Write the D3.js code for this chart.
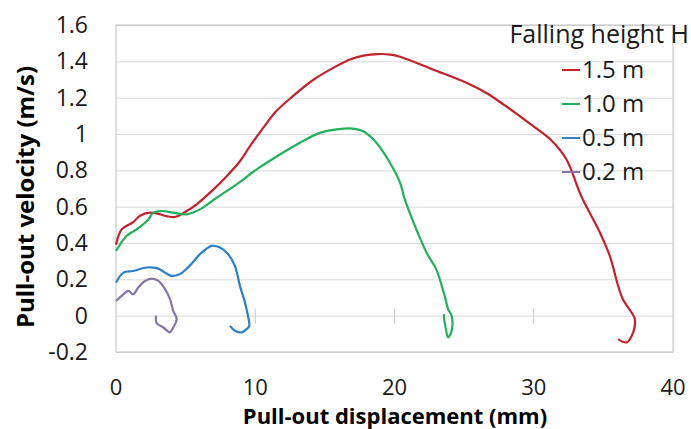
<!DOCTYPE html>
<html>
<head>
<meta charset="utf-8">
<script src="https://cdn.jsdelivr.net/npm/d3@7/dist/d3.min.js"></script>
<style>
  body { margin: 0; background: #fff; }
  svg { font-family: "Open Sans", "Noto Sans", sans-serif; }
</style>
</head>
<body>
<div class="wrapper"></div>
<script>
// data: displacement (mm) and velocity (m/s)
var series = ["1.5 m", "1.0 m", "0.5 m", "0.2 m"];
var colors = ["#c3212b", "#22b05a", "#2d7fc6", "#8574a6"];

var x15 = [0, 0.41, 1.24, 1.72, 2.44, 2.92, 3.64, 4.24, 5.07, 5.79, 6.75, 7.95, 8.9, 9.62, 10.57, 11.5, 12.7, 14.2, 15.6, 16.8, 17.75, 18.8, 19.7, 20.4, 22.8, 25.2, 26.6, 28.0, 29.96, 31.2, 32.35, 33.4, 34.75, 35.46, 36.06, 36.4, 37.1, 37.26, 37.14, 36.66, 36.06];
var v15 = [0.39, 0.475, 0.515, 0.55, 0.567, 0.563, 0.548, 0.543, 0.576, 0.613, 0.677, 0.768, 0.85, 0.933, 1.034, 1.125, 1.208, 1.3, 1.364, 1.41, 1.431, 1.44, 1.437, 1.425, 1.354, 1.281, 1.226, 1.153, 1.043, 0.97, 0.86, 0.66, 0.457, 0.329, 0.164, 0.09, 0.008, -0.019, -0.092, -0.147, -0.129];

var x10 = [0, 0.77, 1.48, 2.32, 2.68, 3.28, 4.11, 5.07, 6.03, 7.23, 8.66, 10.1, 11.77, 13.2, 14.64, 15.84, 17.0, 17.75, 18.7, 19.67, 20.4, 20.74, 22.3, 23.0, 23.6, 23.85, 24.1, 24.1, 23.85, 23.69, 23.55, 23.6];
var v10 = [0.356, 0.44, 0.475, 0.53, 0.567, 0.576, 0.567, 0.558, 0.585, 0.649, 0.723, 0.805, 0.887, 0.952, 1.006, 1.025, 1.03, 1.015, 0.952, 0.842, 0.732, 0.64, 0.347, 0.255, 0.109, 0.036, 0.0, -0.084, -0.12, -0.074, 0.0, 0.008];

var x05 = [0, 0.53, 1.24, 2.2, 3.04, 3.52, 4.0, 4.56, 5.28, 6.03, 6.86, 7.47, 8.06, 8.54, 8.9, 9.26, 9.5, 9.57, 9.38, 9.02, 8.54, 8.18];
var v05 = [0.182, 0.237, 0.246, 0.265, 0.259, 0.237, 0.219, 0.228, 0.274, 0.338, 0.384, 0.375, 0.338, 0.274, 0.164, 0.073, -0.01, -0.056, -0.074, -0.092, -0.083, -0.056];

var x02 = [0, 0.41, 0.89, 1.24, 1.6, 2.08, 2.56, 3.04, 3.52, 3.88, 4.11, 4.36, 4.11, 3.88, 3.4, 2.92, 2.87];
var v02 = [0.081, 0.109, 0.136, 0.118, 0.155, 0.191, 0.204, 0.191, 0.146, 0.091, 0.026, -0.019, -0.065, -0.092, -0.065, -0.041, 0];

var xTicks = [0, 10, 20, 30, 40];
var yTicks = [-0.2, 0, 0.2, 0.4, 0.6, 0.8, 1, 1.2, 1.4, 1.6];

var seriesX = [x15, x10, x05, x02];
var seriesV = [v15, v10, v05, v02];

var width = 691,
    height = 429,
    margin = {top: 25, right: 18, bottom: 77, left: 116};

var x = d3.scaleLinear().domain([0, 40]).range([margin.left, width - margin.right]);
var y = d3.scaleLinear().domain([-0.2, 1.6]).range([height - margin.bottom, margin.top]);

var svg = d3.select(".wrapper").append("svg")
    .attr("width", width)
    .attr("height", height);

// horizontal gridlines
svg.append("g")
    .attr("transform", "translate(" + margin.left + ",0)")
    .call(d3.axisLeft(y).tickValues(yTicks).tickSize(-(width - margin.left - margin.right)).tickFormat(""))
    .call(function(g) { g.select(".domain").remove(); })
    .selectAll("line").attr("stroke", "#d9d9d9");

// plot border
svg.append("rect")
    .attr("x", margin.left).attr("y", margin.top)
    .attr("width", width - margin.left - margin.right)
    .attr("height", height - margin.top - margin.bottom)
    .attr("fill", "none").attr("stroke", "#bfbfbf");

// x axis crosses at v = 0: only the tick marks show
svg.append("g")
    .selectAll("line")
    .data(xTicks.slice(1, -1))
  .enter().append("line")
    .attr("x1", function(d) { return x(d); }).attr("x2", function(d) { return x(d); })
    .attr("y1", y(0) - 7).attr("y2", y(0) + 8)
    .attr("stroke", "#c8c8c8");

// tick labels
svg.append("g").selectAll("text")
    .data(yTicks)
  .enter().append("text")
    .attr("x", 88).attr("y", function(d) { return y(d); })
    .attr("dy", "0.35em")
    .attr("text-anchor", "end")
    .attr("font-size", 23)
    .attr("fill", "#1a1a1a")
    .text(function(d) { return d; });

svg.append("g").selectAll("text")
    .data(xTicks)
  .enter().append("text")
    .attr("x", function(d) { return x(d); }).attr("y", 387)
    .attr("dy", "0.35em")
    .attr("text-anchor", "middle")
    .attr("font-size", 22)
    .attr("fill", "#1a1a1a")
    .text(function(d) { return d; });

// axis titles
svg.append("text")
    .attr("x", 395).attr("y", 424)
    .attr("text-anchor", "middle")
    .attr("font-size", 22).attr("font-weight", "bold")
    .text("Pull-out displacement (mm)");

svg.append("text")
    .attr("transform", "translate(34,197) rotate(-90)")
    .attr("text-anchor", "middle")
    .attr("font-size", 24).attr("font-weight", "bold")
    .text("Pull-out velocity (m/s)");

// curves
var line = d3.line()
    .x(function(d) { return x(d[0]); })
    .y(function(d) { return y(d[1]); })
    .curve(d3.curveCatmullRom);

series.forEach(function(name, i) {
  var pts = seriesX[i].map(function(v, j) { return [v, seriesV[i][j]]; });
  svg.append("path")
      .datum(pts)
      .attr("d", line)
      .attr("fill", "none")
      .attr("stroke", colors[i])
      .attr("stroke-width", 2.2);
});

// legend
var legend = svg.append("g");
legend.append("text")
    .attr("x", 689).attr("y", 34)
    .attr("dy", "0.35em")
    .attr("text-anchor", "end")
    .attr("font-size", 25)
    .attr("fill", "#1a1a1a")
    .text("Falling height H");

var item = legend.selectAll("g.item")
    .data(series)
  .enter().append("g")
    .attr("transform", function(d, i) { return "translate(0," + (70 + i * 34) + ")"; });
item.append("line")
    .attr("x1", 562).attr("x2", 580)
    .attr("stroke", function(d, i) { return colors[i]; })
    .attr("stroke-width", 2);
item.append("text")
    .attr("x", 582)
    .attr("dy", "0.35em")
    .attr("font-size", 24)
    .attr("fill", "#1a1a1a")
    .text(function(d) { return d; });
</script>
</body>
</html>
